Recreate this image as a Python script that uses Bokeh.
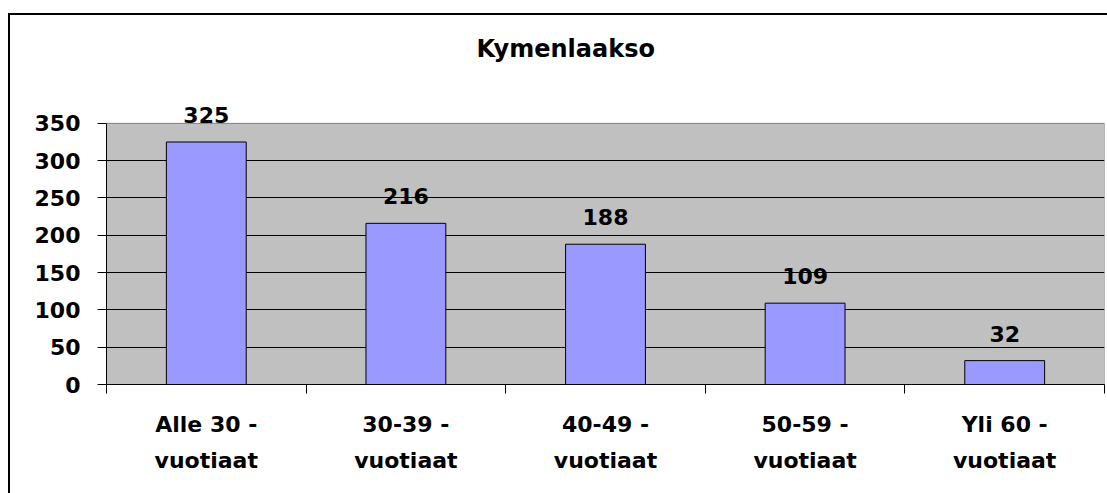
from bokeh.plotting import figure
from bokeh.models import (ColumnDataSource, Range1d, LinearAxis, FixedTicker, LabelSet)
from bokeh.core.properties import value
from bokeh.embed import file_html
from bokeh.resources import INLINE

title_text = "Kymenlaakso"
categories = ["Alle 30 -\nvuotiaat", "30-39 -\nvuotiaat", "40-49 -\nvuotiaat",
              "50-59 -\nvuotiaat", "Yli 60 -\nvuotiaat"]
values = [325, 216, 188, 109, 32]
y_ticks = [0, 50, 100, 150, 200, 250, 300, 350]
grid_ticks = [50, 100, 150, 200, 250, 300]
y_axis_max = 350

FONT = "DejaVu Sans"

n = len(categories)
xpos = [i + 0.5 for i in range(n)]
edge_ticks = list(range(n + 1))

src = ColumnDataSource(dict(x=xpos, val=values, lab=[str(v) for v in values]))

# the frame extends above the 350 line so the top data label is not clipped
p = figure(width=1107, height=493, x_range=Range1d(0, n), y_range=Range1d(0, 390),
           output_backend="svg", toolbar_location=None, x_axis_location=None,
           min_border_left=106, min_border_right=3, min_border_top=93, min_border_bottom=109,
           title=title_text)

p.title.align = "left"
p.title.offset = 370
p.title.standoff = 61
p.title.text_font = FONT
p.title.text_font_style = "bold"
p.title.text_font_size = "24px"
p.title.text_color = "black"

p.background_fill_color = None
p.border_fill_color = None
p.outline_line_color = None
p.styles = {"background": "linear-gradient(#000,#000) 8px 13px/100% 2px no-repeat, "
                          "linear-gradient(#000,#000) 8px 13px/2px 100% no-repeat, #ffffff"}

# gray plot area 0..350
p.quad(left=[0], right=[n], bottom=[0], top=[y_axis_max], fill_color="#C0C0C0",
       line_color="#808080", line_width=1, level="image")

# y axis
p.yaxis.ticker = FixedTicker(ticks=y_ticks)
p.yaxis.bounds = (0, y_axis_max)
p.yaxis.major_tick_in = 0
p.yaxis.major_tick_out = 9
p.yaxis.minor_tick_line_color = None
p.yaxis.axis_line_color = "black"
p.yaxis.major_tick_line_color = "black"
p.yaxis.major_label_standoff = 17
p.yaxis.major_label_text_font = FONT
p.yaxis.major_label_text_font_style = "bold"
p.yaxis.major_label_text_font_size = "22px"
p.yaxis.major_label_text_color = "black"

# grid
p.ygrid.ticker = FixedTicker(ticks=grid_ticks)
p.ygrid.grid_line_color = "black"
p.ygrid.grid_line_width = 1
p.xgrid.grid_line_color = None

# x axis: ticks at category edges
tick_axis = LinearAxis(ticker=FixedTicker(ticks=edge_ticks),
                       major_label_overrides={t: "" for t in edge_ticks},
                       major_label_text_font_size="0px", major_label_standoff=0,
                       major_tick_in=0, major_tick_out=9, minor_tick_line_color=None,
                       axis_line_color="black", major_tick_line_color="black")
p.add_layout(tick_axis, "below")

label_axis = LinearAxis(ticker=FixedTicker(ticks=xpos),
                        major_label_overrides={x: c for x, c in zip(xpos, categories)},
                        axis_line_color=None, major_tick_line_color=None,
                        minor_tick_line_color=None,
                        major_tick_in=0, major_tick_out=0, major_label_standoff=18,
                        major_label_text_font=FONT, major_label_text_font_style="bold",
                        major_label_text_font_size="22px", major_label_text_color="black",
                        major_label_text_line_height=1.46)
p.add_layout(label_axis, "below")

p.vbar(x="x", top="val", width=0.4, source=src, fill_color="#9999FF",
       line_color="black", line_width=1)

labels = LabelSet(x="x", y="val", text="lab", source=src, y_offset=19,
                  text_align="center", text_baseline="alphabetic",
                  text_font=value(FONT), text_font_style="bold",
                  text_font_size="22px", text_color="black")
p.add_layout(labels)

open("out.html", "w").write(file_html(p, INLINE))
